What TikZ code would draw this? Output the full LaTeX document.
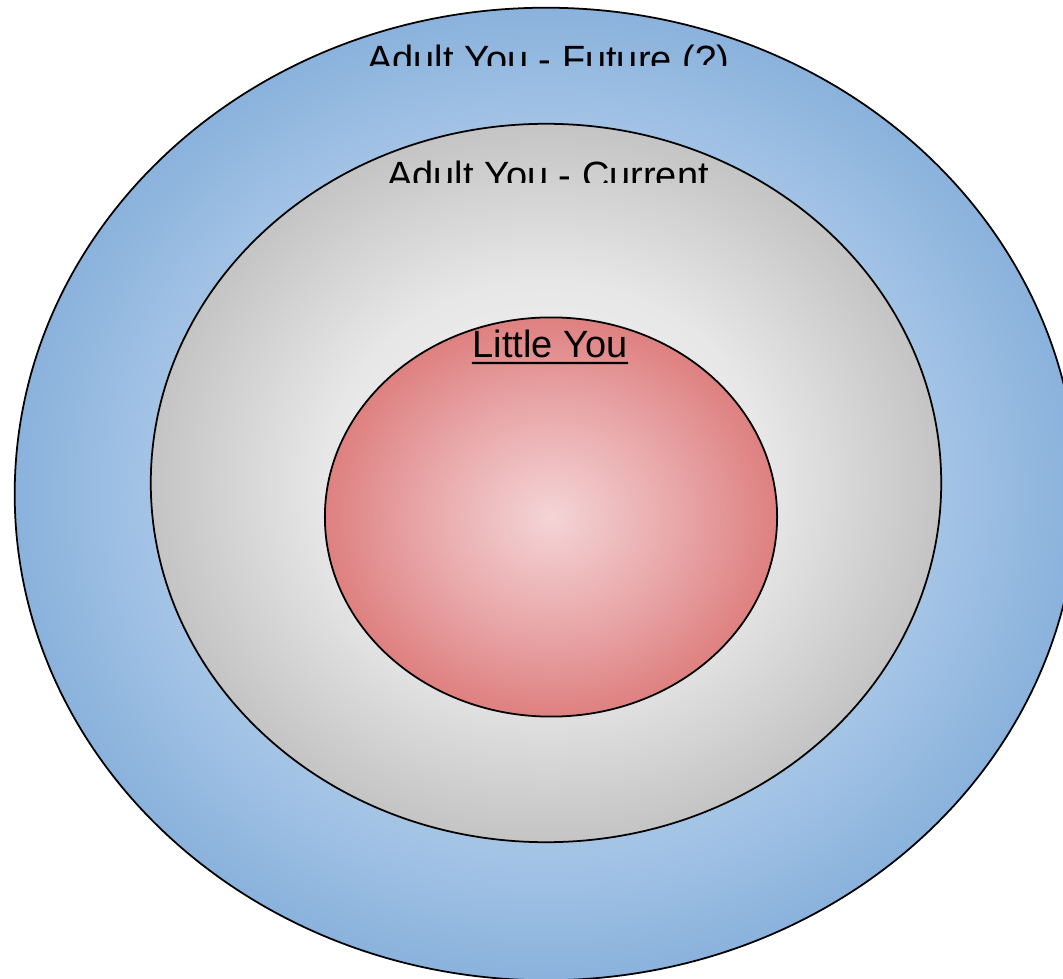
\documentclass[tikz,border=0pt]{standalone}
\usepackage{fontspec}
\setmainfont{Liberation Sans}
\usepackage{tikz}
\usetikzlibrary{shapes.geometric,positioning}
\definecolor{bluein}{RGB}{180,207,237}
\definecolor{bluemid}{RGB}{164,196,230}
\definecolor{blueout}{RGB}{138,178,220}
\definecolor{grayin}{RGB}{244,244,244}
\definecolor{graymid}{RGB}{231,231,231}
\definecolor{grayout}{RGB}{196,196,196}
\definecolor{redin}{RGB}{244,212,214}
\definecolor{redmid}{RGB}{234,172,174}
\definecolor{redout}{RGB}{222,128,128}
\pgfdeclareradialshading{blueshade}{\pgfpoint{0bp}{0bp}}{color(0bp)=(bluein); color(18.5bp)=(bluemid); color(25bp)=(blueout); color(50bp)=(blueout)}
\pgfdeclareradialshading{grayshade}{\pgfpoint{0bp}{0bp}}{color(0bp)=(grayin); color(14bp)=(graymid); color(25bp)=(grayout); color(50bp)=(grayout)}
\pgfdeclareradialshading{redshade}{\pgfpoint{0bp}{0bp}}{color(0bp)=(redin); color(12.5bp)=(redmid); color(25bp)=(redout); color(50bp)=(redout)}

\begin{document}
\begin{tikzpicture}[x=0.01cm,y=-0.01cm,font=\fontsize{10.8}{13}\selectfont,
 ring/.style={ellipse,draw,line width=0.5pt,inner sep=0pt},
 lbl/.style={anchor=base,inner sep=0pt}]
\useasboundingbox (0,0) rectangle (1063,979);
\clip (0,0) rectangle (1063,979);
\node[ring,shading=blueshade,minimum width=10.62cm,minimum height=9.72cm](future) at (546,494){};
\node[ring,shading=grayshade,minimum width=7.9cm,minimum height=7.18cm](current) at (546,483){};
\node[ring,shading=redshade,minimum width=4.52cm,minimum height=3.99cm](little) at (551,517){};
\begin{scope}
\clip (300,30) rectangle (800,66);
\node[lbl](futurelbl) at (548,73){Adult You - Future (?)};
\end{scope}
\begin{scope}
\clip (300,150) rectangle (800,183);
\node[lbl](currentlbl) at (548,189){Adult You - Current};
\end{scope}
\node[lbl](littlelbl) at (550,358){Little You};
\draw[line width=0.6pt](littlelbl.base west)++(0,5)--([yshift=-0.05cm]littlelbl.base east);
\end{tikzpicture}
\end{document}
